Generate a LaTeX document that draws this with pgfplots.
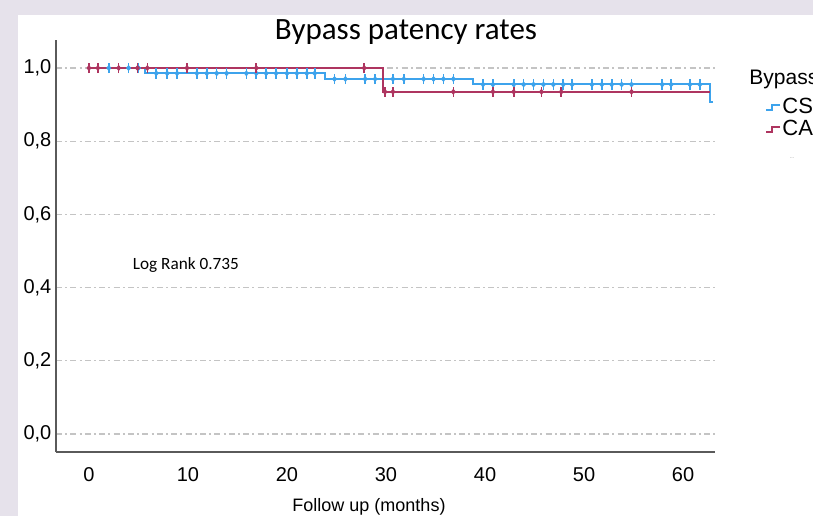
\documentclass[border=0pt]{standalone}
\usepackage{pgfplots}
\pgfplotsset{compat=1.18}
\usepackage{fontspec}
\setmainfont{Liberation Sans}
\newfontfamily\calibri{Carlito}
\definecolor{BgLav}{HTML}{E6E2EB}
\definecolor{KMBlue}{HTML}{3DA3EC}
\definecolor{KMRed}{HTML}{AE3560}
\definecolor{GridGray}{HTML}{C4C4C4}
\definecolor{AxisGray}{HTML}{5A5A5A}

% censoring mark: short vertical bar with a small diamond
\pgfdeclareplotmark{cens}{%
  \pgfpathmoveto{\pgfqpoint{0pt}{-2.6pt}}%
  \pgfpathlineto{\pgfqpoint{0pt}{2.6pt}}%
  \pgfusepathqstroke
  \pgfpathmoveto{\pgfqpoint{0pt}{-1.5pt}}%
  \pgfpathlineto{\pgfqpoint{1.3pt}{0pt}}%
  \pgfpathlineto{\pgfqpoint{0pt}{1.5pt}}%
  \pgfpathlineto{\pgfqpoint{-1.3pt}{0pt}}%
  \pgfpathclose
  \pgfusepathqfill
}

\begin{document}
\begin{tikzpicture}
\useasboundingbox (0pt,0pt) rectangle (406.5pt,258pt);
\clip (0pt,0pt) rectangle (406.5pt,258pt);
\fill[BgLav] (0pt,0pt) rectangle (406.5pt,258pt);
\fill[white] (9pt,0pt) rectangle (406.5pt,250.5pt);

\begin{axis}[
  at={(28pt,32pt)}, anchor=south west,
  scale only axis,
  width=329.5pt, height=206pt,
  xmin=-3.33, xmax=63.23,
  ymin=-0.049, ymax=1.0765,
  axis x line*=bottom, axis y line*=left,
  axis line style={AxisGray, line width=0.9pt, -},
  xtick={0,10,...,60},
  ytick={0,0.2,...,1.0},
  major tick length=0pt,
  ymajorgrids,
  grid style={GridGray, line width=0.6pt, dash pattern=on 3pt off 1.6pt on 1pt off 1.6pt},
  tick label style={font=\fontsize{10}{12}\selectfont, /pgf/number format/assume math mode=true},
  xticklabel style={yshift=-4pt},
  yticklabel style={xshift=1.2pt, /pgf/number format/.cd, fixed, fixed zerofill, precision=1, use comma},
  clip=false,
]
% Kaplan-Meier step curves
\addplot[const plot, KMBlue, line width=1pt] coordinates {
  (0,1) (5.7,0.9855) (23.8,0.970) (38.8,0.955) (62.7,0.908) (63.0,0.908)};
\addplot[const plot, KMRed, line width=1pt] coordinates {
  (0,1) (29.7,0.935) (62.7,0.935)};

% censored observations
\addplot[only marks, mark=cens, KMBlue, line width=0.8pt] coordinates {
  (2.0,1) (4.0,1) (5.0,1)
  (6.8,0.9855) (7.9,0.9855) (8.9,0.9855) (10.9,0.9855) (11.9,0.9855)
  (12.9,0.9855) (13.9,0.9855) (15.9,0.9855) (16.9,0.9855) (17.9,0.9855)
  (18.9,0.9855) (20.0,0.9855) (21.0,0.9855) (22.0,0.9855) (22.8,0.9855)
  (24.8,0.970) (25.9,0.970) (27.9,0.970) (28.9,0.970) (30.7,0.970)
  (31.8,0.970) (33.8,0.970) (34.8,0.970) (35.8,0.970) (36.8,0.970)
  (39.8,0.955) (40.8,0.955) (42.9,0.955) (43.9,0.955) (44.9,0.955)
  (45.9,0.955) (46.9,0.955) (47.9,0.955) (48.8,0.955) (50.8,0.955)
  (51.8,0.955) (52.8,0.955) (53.8,0.955) (54.8,0.955) (57.9,0.955)
  (58.8,0.955) (60.7,0.955) (61.7,0.955)};
\addplot[only marks, mark=cens, KMRed, line width=0.8pt] coordinates {
  (0,1) (0.9,1) (3.0,1) (4.9,1) (5.9,1) (9.9,1) (16.9,1) (27.8,1)
  (29.9,0.935) (30.7,0.935) (36.8,0.935) (40.8,0.935) (42.9,0.935)
  (45.7,0.935) (47.7,0.935) (54.8,0.935)};

\node[anchor=west, font=\calibri\fontsize{8.6}{10}\selectfont, inner sep=0pt]
  at (axis cs:4.4,0.462) {Log Rank 0.735};
\end{axis}

% title and x label
\node[font=\calibri\fontsize{15.5}{18}\selectfont] at (203pt,242pt) {Bypass patency rates};
\node[font=\fontsize{9}{11}\selectfont] at (184.5pt,4.5pt) {Follow up (months)};

% legend (cut by the picture edge)
\node[anchor=west, font=\fontsize{10.5}{12}\selectfont, inner sep=0pt] at (374.5pt,218.5pt) {Bypass};
\draw[KMBlue, line width=0.8pt] (383pt,203pt) -- (386pt,203pt) -- (386pt,205.5pt) -- (390pt,205.5pt);
\node[anchor=west, font=\fontsize{11}{13}\selectfont, inner sep=0pt] at (391pt,205pt) {CS};
\draw[KMRed, line width=0.8pt] (383pt,192pt) -- (386pt,192pt) -- (386pt,194.5pt) -- (390pt,194.5pt);
\node[anchor=west, font=\fontsize{11}{13}\selectfont, inner sep=0pt] at (391pt,194pt) {CA};
\node[font=\fontsize{2.5}{3}\selectfont, text=gray] at (396pt,179pt) {...};
\end{tikzpicture}
\end{document}
